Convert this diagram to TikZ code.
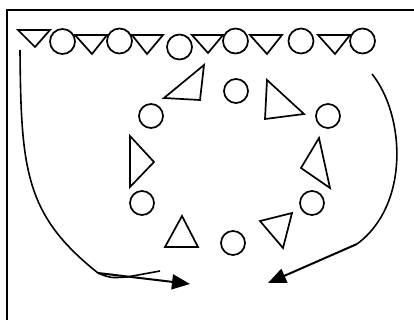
\documentclass[tikz,border=0pt]{standalone}
\usepackage{tikz}
\usetikzlibrary{arrows.meta}
\tikzset{
  disc/.style={draw,circle,line width=1.7pt,minimum size=25pt,inner sep=0pt},
  tri/.style={draw,line width=1.7pt,line join=miter},
  frame/.style={draw,line width=1.8pt},
  run/.style={line width=1.6pt},
  arr/.style={-{Triangle[length=18pt,width=15pt]},line width=2pt},
}
\begin{document}
\begin{tikzpicture}[x=1pt,y=-1pt]
\useasboundingbox (0,0) rectangle (414,320);
\draw[frame] (7,320) |- (414,10);

% top row
\draw[tri] (18,30) -- (50,30) -- (35,47) -- cycle;
\node[disc] (t1) at (62.5,41.5) {};
\draw[tri] (75,35) -- (107,35) -- (92,54) -- cycle;
\node[disc] (t2) at (119.5,41) {};
\draw[tri] (132,35) -- (163,35) -- (147,54) -- cycle;
\node[disc] (t3) at (179.5,47) {};
\draw[tri] (192,35) -- (223,35) -- (208,53) -- cycle;
\node[disc] (t4) at (235.5,41) {};
\draw[tri] (250,35) -- (282,35) -- (267,54) -- cycle;
\node[disc] (t5) at (301,41) {};
\draw[tri] (318,35) -- (350,35) -- (335,54) -- cycle;
\node[disc] (t6) at (362.5,41) {};

% ring
\node[disc,minimum size=24pt] (r1) at (236,91) {};
\node[disc,minimum size=24pt] (r2) at (328,116) {};
\node[disc,minimum size=24pt] (r3) at (312,203) {};
\node[disc,minimum size=24pt] (r4) at (233,243) {};
\node[disc,minimum size=24pt] (r5) at (142,203) {};
\node[disc,minimum size=24pt] (r6) at (151,116) {};
\draw[tri] (164,98) -- (204,65) -- (200,100) -- cycle;
\draw[tri] (267,80) -- (304,114) -- (265,119) -- cycle;
\draw[tri] (319,138) -- (301,168) -- (330,188) -- cycle;
\draw[tri] (260,221) -- (292,213) -- (283,248) -- cycle;
\draw[tri] (182,216) -- (165,247) -- (198,247) -- cycle;
\draw[tri] (130,136) -- (154,162) -- (130,187) -- cycle;

% runs
\coordinate (ls) at (20,50);
\coordinate (lb) at (98,273);
\coordinate (lk) at (127,277);
\coordinate (le) at (160,271);
\coordinate (lt) at (190,284);
\coordinate (rs) at (372,74);
\coordinate (rb) at (357,244);
\coordinate (rt) at (268,283);

\draw[run] (ls) .. controls (21,170) and (25,215) .. (lb)
  .. controls (110,278) .. (lk) -- (le);
\draw[arr] (lb) -- (lt);
\draw[run] (rs) .. controls (405,115) and (410,205) .. (rb);
\draw[arr] (rb) -- (rt);
\end{tikzpicture}
\end{document}
